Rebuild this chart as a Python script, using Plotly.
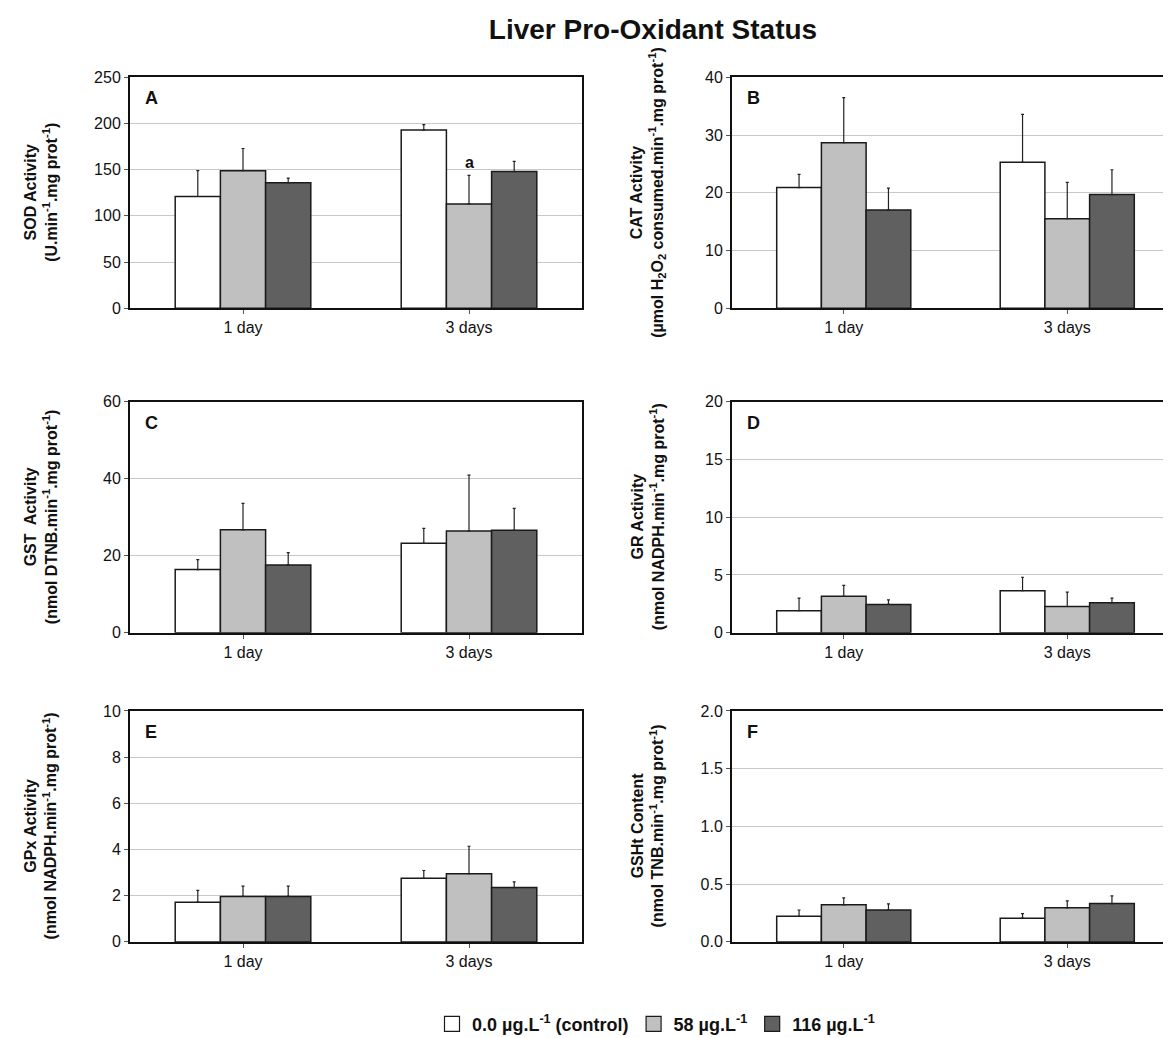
import plotly.graph_objects as go

# ---------------- data ----------------
days = ["1 day", "3 days"]
series_names = ["0.0 µg.L<sup>-1</sup> (control)", "58 µg.L<sup>-1</sup>", "116 µg.L<sup>-1</sup>"]
series_colors = ["#FFFFFF", "#C0C0C0", "#606060"]

# Panel A - SOD
sod_control = [121, 193]
sod_58 = [149, 113]
sod_116 = [136, 148]
sod_control_err = [28, 6]
sod_58_err = [24, 31]
sod_116_err = [5, 11]

# Panel B - CAT
cat_control = [20.9, 25.3]
cat_58 = [28.7, 15.5]
cat_116 = [17.0, 19.7]
cat_control_err = [2.3, 8.3]
cat_58_err = [7.8, 6.3]
cat_116_err = [3.8, 4.3]

# Panel C - GST
gst_control = [16.4, 23.2]
gst_58 = [26.7, 26.4]
gst_116 = [17.6, 26.6]
gst_control_err = [2.6, 3.9]
gst_58_err = [6.9, 14.5]
gst_116_err = [3.2, 5.7]

# Panel D - GR
gr_control = [1.90, 3.64]
gr_58 = [3.15, 2.27]
gr_116 = [2.45, 2.59]
gr_control_err = [1.10, 1.16]
gr_58_err = [0.95, 1.25]
gr_116_err = [0.40, 0.41]

# Panel E - GPx
gpx_control = [1.72, 2.75]
gpx_58 = [1.97, 2.95]
gpx_116 = [1.97, 2.35]
gpx_control_err = [0.51, 0.34]
gpx_58_err = [0.44, 1.19]
gpx_116_err = [0.44, 0.25]

# Panel F - GSHt
gsh_control = [0.222, 0.205]
gsh_58 = [0.321, 0.295]
gsh_116 = [0.276, 0.332]
gsh_control_err = [0.054, 0.039]
gsh_58_err = [0.060, 0.060]
gsh_116_err = [0.054, 0.066]

panel_letters = ["A", "B", "C", "D", "E", "F"]
y_titles = [
    "<b>SOD Activity<br>(U.min<sup>-1</sup>.mg prot<sup>-1</sup>)</b>",
    "<b>CAT Activity<br>(µmol H<sub>2</sub>O<sub>2</sub> consumed.min<sup>-1</sup>.mg prot<sup>-1</sup>)</b>",
    "<b>GST  Activity<br>(nmol DTNB.min<sup>-1</sup>.mg prot<sup>-1</sup>)</b>",
    "<b>GR Activity<br>(nmol NADPH.min<sup>-1</sup>.mg prot<sup>-1</sup>)</b>",
    "<b>GPx Activity<br>(nmol NADPH.min<sup>-1</sup>.mg prot<sup>-1</sup>)</b>",
    "<b>GSHt Content<br>(nmol TNB.min<sup>-1</sup>.mg prot<sup>-1</sup>)</b>",
]
y_ranges = [[0, 250], [0, 40], [0, 60], [0, 20], [0, 10], [0, 2.0]]
y_dticks = [50, 10, 20, 5, 2, 0.5]
y_formats = ["", "", "", "", "", ".1f"]
title_text = "<b>Liver Pro-Oxidant Status</b>"

panels = [
    ([sod_control, sod_58, sod_116], [sod_control_err, sod_58_err, sod_116_err]),
    ([cat_control, cat_58, cat_116], [cat_control_err, cat_58_err, cat_116_err]),
    ([gst_control, gst_58, gst_116], [gst_control_err, gst_58_err, gst_116_err]),
    ([gr_control, gr_58, gr_116], [gr_control_err, gr_58_err, gr_116_err]),
    ([gpx_control, gpx_58, gpx_116], [gpx_control_err, gpx_58_err, gpx_116_err]),
    ([gsh_control, gsh_58, gsh_116], [gsh_control_err, gsh_58_err, gsh_116_err]),
]

# ---------------- layout geometry ----------------
W, H = 1171, 1038
FONT = "Arial, Liberation Sans, Helvetica, sans-serif"
col_x = [(122 / W, 574 / W), (724 / W, 1.0)]
row_px = [(62.5, 297.0), (392.0, 627.0), (706.5, 941.3)]
row_y = [(1 - b / H, 1 - t / H) for (t, b) in row_px]
ytitle_x_px = [33, 640]

fig = go.Figure()
layout = dict(
    width=W, height=H,
    margin=dict(l=0, r=0, t=0, b=0),
    paper_bgcolor="white", plot_bgcolor="white",
    font=dict(family=FONT, size=16, color="#111111"),
    barmode="group", bargap=0.4, bargroupgap=0.0,
    showlegend=True,
    legend=dict(orientation="h", x=648 / W, xanchor="center", y=1 - 1025 / H, yanchor="middle",
                font=dict(family=FONT, size=18, color="#111111", weight="bold"),
                bgcolor="rgba(0,0,0,0)", traceorder="normal", itemclick=False),
    title=dict(text=title_text, x=645 / W, xanchor="center", y=1 - 21 / H, yanchor="middle",
               font=dict(family=FONT, size=28, color="#111111")),
    annotations=[],
)

for i, (vals, errs) in enumerate(panels):
    r, c = divmod(i, 2)
    n = i + 1
    xa = "x" if n == 1 else f"x{n}"
    ya = "y" if n == 1 else f"y{n}"
    for s in range(3):
        fig.add_trace(go.Bar(
            x=days, y=vals[s], name=series_names[s],
            marker=dict(color=series_colors[s], line=dict(color="#1a1a1a", width=1.5)),
            error_y=dict(type="data", array=errs[s], arrayminus=[0] * len(errs[s]), symmetric=False,
                         color="#222222", thickness=1.2, width=1.5),
            xaxis=xa, yaxis=ya, legendgroup=str(s), showlegend=False,
        ))
    xkey = "xaxis" if n == 1 else f"xaxis{n}"
    ykey = "yaxis" if n == 1 else f"yaxis{n}"
    layout[xkey] = dict(
        domain=list(col_x[c]), anchor=ya, type="category",
        showline=True, linecolor="#111111", linewidth=2, mirror=True,
        ticks="outside", ticklen=4, tickcolor="#555555", tickwidth=1,
        showgrid=False, tickfont=dict(size=16, color="#111111"), fixedrange=True,
    )
    layout[ykey] = dict(
        domain=list(row_y[r]), anchor=xa, range=y_ranges[i], dtick=y_dticks[i], tick0=0,
        tickformat=y_formats[i],
        showline=True, linecolor="#111111", linewidth=2, mirror=(c == 0),
        ticks="outside", ticklen=4, tickcolor="#555555", tickwidth=1,
        showgrid=True, gridcolor="#C8C8C8", gridwidth=1, zeroline=False,
        tickfont=dict(size=16, color="#111111"), fixedrange=True,
    )
    # panel letter
    layout["annotations"].append(dict(
        text=f"<b>{panel_letters[i]}</b>", xref=f"{xa} domain", yref=f"{ya} domain",
        x=0, y=1, xanchor="left", yanchor="middle", xshift=13, yshift=-21,
        showarrow=False, font=dict(size=18, color="#111111"),
    ))
    # y-axis title
    ymid = (row_y[r][0] + row_y[r][1]) / 2
    layout["annotations"].append(dict(
        text=y_titles[i], xref="paper", yref="paper",
        x=ytitle_x_px[c] / W, y=ymid, xanchor="center", yanchor="middle",
        textangle=-90, showarrow=False, font=dict(size=16, color="#111111"),
    ))

# legend entries: square swatches like the reference key (no data points drawn)
for s in range(3):
    fig.add_trace(go.Scatter(
        x=[None], y=[None], mode="markers", name=series_names[s],
        marker=dict(symbol="square", size=15, color=series_colors[s],
                    line=dict(color="#1a1a1a", width=1.2)),
        legendgroup=str(s), showlegend=True, xaxis="x", yaxis="y", hoverinfo="skip",
    ))

# significance mark on panel A, 58 µg/L at 3 days
layout["annotations"].append(dict(
    text="<b>a</b>", xref="x", yref="y", x=days[1], y=sod_58[1] + sod_58_err[1] + 14,
    xanchor="center", yanchor="middle", showarrow=False, font=dict(size=16, color="#111111"),
))

fig.update_layout(**layout)
fig.write_html("out.html")
